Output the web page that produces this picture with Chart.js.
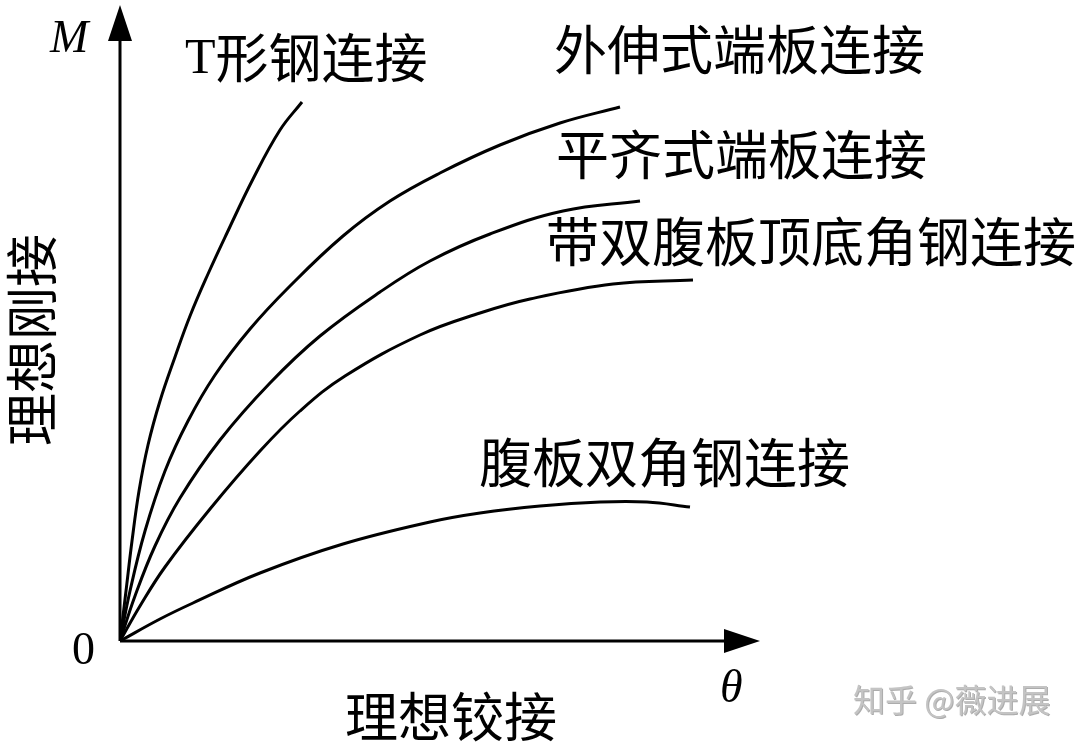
<!DOCTYPE html>
<html lang="zh">
<head>
    <meta charset="UTF-8">
    <title>连接类型 M-θ 曲线</title>
    <style>
        body { margin: 0; padding: 0; background: #fff; }
        canvas { display: block; }
    </style>
    <script src="https://cdn.jsdelivr.net/npm/chart.js"></script>
</head>
<body>
    <canvas id="mtChart" width="1080" height="747"></canvas>
    <script>
        // curve points (θ, M), arbitrary units
        const tSteel    = [[0,0],[6,50],[12,100],[19,150],[28,196],[40,240],[55,284],[70,325],[88,367],[107,408],[133,462],[160,511],[182,539]];
        const extended  = [[0,0],[10,50],[25,110],[45,170],[68,220],[95,266],[130,312],[170,355],[223,405],[270,440],[320,468],[380,496],[440,518],[500,534]];
        const flush     = [[0,0],[15,45],[35,95],[60,143],[100,201],[150,258],[200,305],[260,349],[310,380],[370,407],[443,430],[520,440]];
        const topSeat   = [[0,0],[20,35],[45,74],[90,132],[140,190],[180,230],[225,265],[300,306],[360,328],[410,342],[493,357],[573,361]];
        const webAngle  = [[0,0],[40,22],[73,38],[140,68],[223,97],[310,119],[360,128],[420,135],[480,139],[527,139],[570,134]];
        const seriesNames = ['T形钢连接', '外伸式端板连接', '平齐式端板连接', '带双腹板顶底角钢连接', '腹板双角钢连接'];
        const xMax = 640, yMax = 636;

        const toXY = arr => arr.map(p => ({ x: p[0], y: p[1] }));
        const allSeries = [tSteel, extended, flush, topSeat, webAngle];

        const cjk = '"Noto Sans CJK SC", sans-serif';
        const serif = '"Liberation Serif", "DejaVu Serif", serif';

        const axesAndText = {
            id: 'axesAndText',
            beforeDatasetsDraw(chart) {
                const c = chart.ctx;
                const xs = chart.scales.x, ys = chart.scales.y;
                const x0 = xs.getPixelForValue(0), y0 = ys.getPixelForValue(0);
                const yTop = ys.getPixelForValue(yMax), xEnd = xs.getPixelForValue(xMax);
                c.save();
                c.strokeStyle = '#000';
                c.fillStyle = '#000';
                c.lineWidth = 3;
                c.beginPath();
                c.moveTo(x0, y0); c.lineTo(x0, yTop + 30);
                c.moveTo(x0, y0); c.lineTo(xEnd - 30, y0);
                c.stroke();
                // arrow heads
                c.beginPath();
                c.moveTo(x0, yTop); c.lineTo(x0 - 12, yTop + 36); c.lineTo(x0 + 12, yTop + 36); c.closePath();
                c.fill();
                c.beginPath();
                c.moveTo(xEnd, y0); c.lineTo(xEnd - 36, y0 - 12); c.lineTo(xEnd - 36, y0 + 12); c.closePath();
                c.fill();
                c.restore();
            },
            afterDraw(chart) {
                const c = chart.ctx;
                c.save();
                c.fillStyle = '#000';
                c.textBaseline = 'middle';
                c.textAlign = 'left';

                c.font = 'italic 46px ' + serif;
                c.fillText('M', 50, 40);
                c.fillText('θ', 720, 690);
                c.font = '46px ' + serif;
                c.fillText('0', 72, 652);

                // "T" is set in the serif face, the rest in CJK
                c.font = '50px ' + serif;
                c.fillText('T', 185, 60);
                const tw = c.measureText('T').width;
                c.font = '53px ' + cjk;
                c.fillText(seriesNames[0].slice(1), 185 + tw, 58);
                c.fillText(seriesNames[1], 554, 50);
                c.fillText(seriesNames[2], 556, 155);
                c.fillText(seriesNames[3], 546, 242);
                c.fillText(seriesNames[4], 479, 463);

                c.fillText('理想铰接', 345, 717);
                c.save();
                c.translate(32, 340);
                c.rotate(-Math.PI / 2);
                c.textAlign = 'center';
                c.fillText('理想刚接', 0, 0);
                c.restore();

                // watermark
                c.font = '32px ' + cjk;
                c.fillStyle = 'rgba(90,90,90,0.5)';
                c.fillText('知乎 @薇进展', 854, 701);
                c.fillStyle = '#c4c4c4';
                c.fillText('知乎 @薇进展', 853, 700);
                c.restore();
            }
        };

        new Chart(document.getElementById('mtChart').getContext('2d'), {
            type: 'scatter',
            data: {
                datasets: allSeries.map((s, i) => ({
                    label: seriesNames[i],
                    data: toXY(s),
                    showLine: true,
                    borderColor: '#000',
                    borderWidth: 3,
                    pointRadius: 0,
                    fill: false,
                    tension: 0.4
                }))
            },
            options: {
                responsive: false,
                animation: false,
                devicePixelRatio: 1,
                layout: { padding: { left: 120, right: 320, top: 5, bottom: 106 } },
                plugins: { legend: { display: false }, tooltip: { enabled: false } },
                scales: {
                    x: { type: 'linear', min: 0, max: xMax, display: false },
                    y: { type: 'linear', min: 0, max: yMax, display: false }
                }
            },
            plugins: [axesAndText]
        });
    </script>
</body>
</html>
